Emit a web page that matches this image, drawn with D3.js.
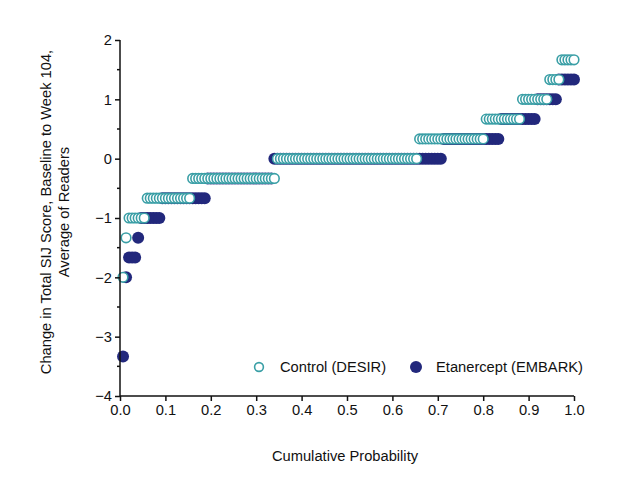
<!DOCTYPE html>
<html>
<head>
<meta charset="utf-8">
<script src="https://cdn.jsdelivr.net/npm/d3@7"></script>
<style>
  html, body { margin: 0; padding: 0; background: #fff; }
  text { font-family: "Liberation Sans", Arial, Helvetica, sans-serif; fill: #111; }
</style>
</head>
<body>
<svg id="chart" width="620" height="494"></svg>
<script>
// Score levels (multiples of 1/3 — average of three readers)
const levels = [-10/3, -2, -5/3, -4/3, -1, -2/3, -1/3, 0, 1/3, 2/3, 1, 4/3, 5/3];
// Number of patients at each level
const controlCounts    = [0, 1, 0, 1, 6, 15, 28, 47, 22, 12, 9, 4, 5];
const etanerceptCounts = [1, 1, 3, 1, 7, 15, 22, 56, 19, 12, 7, 6, 0];
const seriesNames = ["Control (DESIR)", "Etanercept (EMBARK)"];
const xTicks = [0, 0.1, 0.2, 0.3, 0.4, 0.5, 0.6, 0.7, 0.8, 0.9, 1.0];
const yTicks = [2, 1, 0, -1, -2, -3, -4];
const yMinorTicks = [1.5, 0.5, -0.5, -1.5, -2.5, -3.5];

const teal = "#3a9fa6";
const navy = "#22287c";
const FS = 14.7;

function cumulative(counts) {
  const n = d3.sum(counts);
  const pts = [];
  let i = 0;
  counts.forEach((c, k) => {
    for (let j = 0; j < c; j++) { i++; pts.push({p: i / n, v: levels[k]}); }
  });
  return pts;
}
const controlPts = cumulative(controlCounts);
const etanPts = cumulative(etanerceptCounts);

const svg = d3.select("#chart");
const x = d3.scaleLinear().domain([0, 1]).range([120, 574]);
const y = d3.scaleLinear().domain([-4, 2]).range([396, 40]);

// Etanercept (filled, behind)
svg.append("g").selectAll("circle").data(etanPts).join("circle")
  .attr("cx", d => x(d.p)).attr("cy", d => y(d.v)).attr("r", 6)
  .attr("fill", navy);

// Control (open)
svg.append("g").selectAll("circle").data(controlPts).join("circle")
  .attr("cx", d => x(d.p)).attr("cy", d => y(d.v)).attr("r", 4.8)
  .attr("fill", "#fff").attr("stroke", teal).attr("stroke-width", 1.6);

// Axes
const fmtY = d => (d < 0 ? "\u2212" + Math.abs(d) : String(d));
const xAxis = d3.axisBottom(x).tickValues(xTicks).tickFormat(d3.format(".1f"))
  .tickSize(5).tickPadding(4);
const gx = svg.append("g").attr("transform", "translate(0,396)").call(xAxis);
gx.select(".domain").attr("d", `M${x(0)},0H${x(1)}`);

const yAxis = d3.axisLeft(y).tickValues(yTicks).tickFormat(fmtY).tickSize(5).tickPadding(3);
const gy = svg.append("g").attr("transform", "translate(120,0)").call(yAxis);
gy.select(".domain").attr("d", `M0,${y(2)}V${y(-4)}`);
gy.selectAll(".minor").data(yMinorTicks).join("line").attr("class", "minor")
  .attr("x1", -3).attr("x2", 0).attr("y1", d => y(d)).attr("y2", d => y(d))
  .attr("stroke", "#111").attr("stroke-width", 1.5);

[gx, gy].forEach(g => {
  g.selectAll(".domain, .tick line").attr("stroke", "#111").attr("stroke-width", 1.5);
  g.selectAll(".tick text").attr("font-size", FS).attr("fill", "#111")
    .attr("font-family", "'Liberation Sans', Arial, sans-serif");
});

// Axis titles
svg.append("text").attr("x", 345).attr("y", 461).attr("text-anchor", "middle")
  .attr("font-size", FS).text("Cumulative Probability");
const yt = svg.append("text").attr("transform", "translate(51,212) rotate(-90)")
  .attr("text-anchor", "middle").attr("font-size", FS);
yt.append("tspan").attr("x", 0).attr("dy", 0).text("Change in Total SIJ Score, Baseline to Week 104,");
yt.append("tspan").attr("x", 0).attr("dy", 18).text("Average of Readers");

// Legend
const leg = svg.append("g");
leg.append("circle").attr("cx", 259).attr("cy", 367).attr("r", 4.4)
  .attr("fill", "#fff").attr("stroke", teal).attr("stroke-width", 1.6);
leg.append("text").attr("x", 280).attr("y", 372).attr("font-size", FS).text(seriesNames[0]);
leg.append("circle").attr("cx", 416).attr("cy", 367).attr("r", 6).attr("fill", navy);
leg.append("text").attr("x", 436).attr("y", 372).attr("font-size", FS).text(seriesNames[1]);
</script>
</body>
</html>
